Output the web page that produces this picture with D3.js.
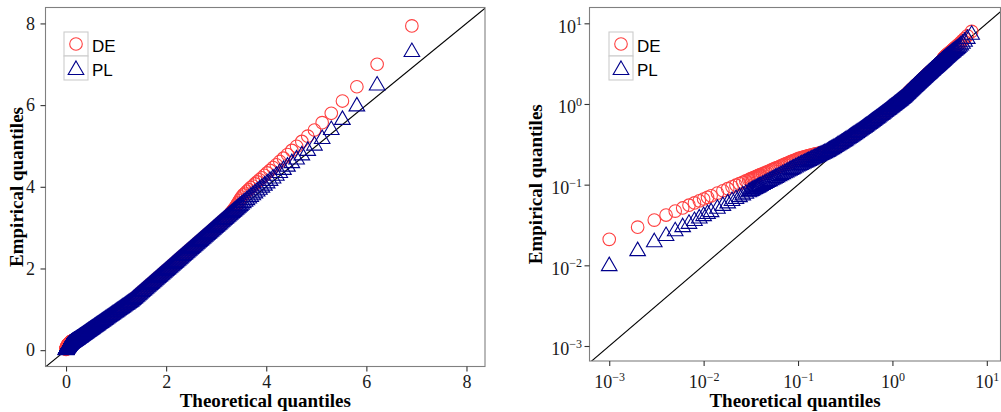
<!DOCTYPE html>
<html>
<head>
<meta charset="utf-8">
<script src="https://cdn.jsdelivr.net/npm/d3@7"></script>
<style>
  body { margin: 0; background: #fff; }
  svg { display: block; }
</style>
</head>
<body>
<svg width="1001" height="412"></svg>
<script>
// QQ plot data: theoretical quantiles and empirical quantiles of two samples
const seriesNames = ['DE', 'PL']
const seriesColors = ['#ff4040', '#00008b']

const theoretical = [
  0.001, 0.002, 0.003, 0.004, 0.005, 0.006, 0.007, 0.008, 0.009, 0.010, 0.011, 0.012,
  0.014, 0.016, 0.018, 0.020, 0.022, 0.024, 0.026, 0.028, 0.030,
  0.031, 0.032, 0.033, 0.034, 0.035, 0.036, 0.037, 0.038, 0.039, 0.040,
  0.042, 0.044, 0.046, 0.048, 0.050, 0.052, 0.054, 0.056, 0.058, 0.060,
  0.063, 0.066, 0.069, 0.072, 0.075, 0.078, 0.081, 0.084, 0.087, 0.090,
  0.094, 0.098, 0.102, 0.106, 0.110, 0.114, 0.118, 0.122, 0.126, 0.130,
  0.135, 0.140, 0.145, 0.150, 0.155, 0.160, 0.165, 0.170, 0.175, 0.180,
  0.186, 0.192, 0.198, 0.204, 0.210, 0.216, 0.222, 0.228, 0.234, 0.240,
  0.248, 0.256, 0.264, 0.272, 0.280, 0.288, 0.296, 0.304, 0.312, 0.320,
  0.330, 0.340, 0.350, 0.360, 0.370, 0.380, 0.390, 0.400, 0.410, 0.420,
  0.432, 0.444, 0.456, 0.468, 0.480, 0.492, 0.504, 0.516, 0.528, 0.540,
  0.555, 0.570, 0.585, 0.600, 0.615, 0.630, 0.645, 0.660, 0.675, 0.690,
  0.708, 0.726, 0.744, 0.762, 0.780, 0.798,
  0.82, 0.84, 0.86, 0.88, 0.90, 0.92, 0.94, 0.96, 0.98, 1.00,
  1.02, 1.04, 1.06, 1.08, 1.10, 1.12, 1.14, 1.16, 1.18, 1.20,
  1.22, 1.24, 1.26, 1.28, 1.30, 1.32, 1.34, 1.36, 1.38, 1.40,
  1.42, 1.44, 1.46, 1.48, 1.50, 1.52, 1.54, 1.56, 1.58, 1.60,
  1.62, 1.64, 1.66, 1.68, 1.70, 1.72, 1.74, 1.76, 1.78, 1.80,
  1.82, 1.84, 1.86, 1.88, 1.90, 1.92, 1.94, 1.96, 1.98, 2.00,
  2.02, 2.04, 2.06, 2.08, 2.10, 2.12, 2.14, 2.16, 2.18, 2.20,
  2.22, 2.24, 2.26, 2.28, 2.30, 2.32, 2.34, 2.36, 2.38, 2.40,
  2.42, 2.44, 2.46, 2.48, 2.50, 2.52, 2.54, 2.56, 2.58, 2.60,
  2.62, 2.64, 2.66, 2.68, 2.70, 2.72, 2.74, 2.76, 2.78, 2.80,
  2.82, 2.84, 2.86, 2.88, 2.90, 2.92, 2.94, 2.96, 2.98, 3.00,
  3.02, 3.04, 3.06, 3.08, 3.10, 3.12, 3.14, 3.16, 3.18, 3.20,
  3.22, 3.24, 3.26, 3.28, 3.30, 3.32, 3.34, 3.36, 3.38, 3.40,
  3.42, 3.44, 3.46, 3.48,
  3.507, 3.541, 3.576, 3.613, 3.651, 3.690, 3.731, 3.773, 3.818, 3.864,
  3.913, 3.964, 4.018, 4.076, 4.136, 4.201, 4.270, 4.344, 4.424, 4.511,
  4.606, 4.711, 4.829, 4.963, 5.117, 5.299, 5.522, 5.810, 6.215, 6.909
]

const empiricalDE = [
  0.0210, 0.0297, 0.0364, 0.0420, 0.0470, 0.0514, 0.0556, 0.0594, 0.0630, 0.0664, 0.0696, 0.0727,
  0.0786, 0.0840, 0.0891, 0.0939, 0.0985, 0.1029, 0.1071, 0.1111, 0.1150,
  0.1169, 0.1188, 0.1206, 0.1224, 0.1242, 0.1260, 0.1277, 0.1295, 0.1311, 0.1328,
  0.1361, 0.1393, 0.1424, 0.1455, 0.1485, 0.1514, 0.1543, 0.1571, 0.1599, 0.1627,
  0.1667, 0.1706, 0.1744, 0.1782, 0.1819, 0.1855, 0.1890, 0.1925, 0.1959, 0.1992,
  0.2036, 0.2079, 0.2114, 0.2141, 0.2168, 0.2193, 0.2218, 0.2242, 0.2265, 0.2288,
  0.2314, 0.2340, 0.2364, 0.2388, 0.2409, 0.2430, 0.2449, 0.2468, 0.2484, 0.2500,
  0.2517, 0.2532, 0.2546, 0.2534, 0.2586, 0.2638, 0.2689, 0.2741, 0.2792, 0.2844,
  0.2913, 0.2982, 0.3051, 0.3119, 0.3188, 0.3257, 0.3326, 0.3394, 0.3463, 0.3532,
  0.3618, 0.3704, 0.3790, 0.3876, 0.3962, 0.4048, 0.4134, 0.4220, 0.4306, 0.4392,
  0.4495, 0.4598, 0.4702, 0.4805, 0.4908, 0.5011, 0.5114, 0.5218, 0.5321, 0.5424,
  0.5553, 0.5682, 0.5811, 0.5940, 0.6069, 0.6198, 0.6327, 0.6456, 0.6585, 0.6714,
  0.6869, 0.7024, 0.7178, 0.7333, 0.7488, 0.7643,
  0.7832, 0.8004, 0.8176, 0.8348, 0.8520, 0.8692, 0.8864, 0.9036, 0.9208, 0.9380,
  0.9552, 0.9724, 0.9896, 1.0068, 1.0240, 1.0412, 1.0584, 1.0756, 1.0928, 1.1100,
  1.1272, 1.1444, 1.1616, 1.1788, 1.1955, 1.2165, 1.2380, 1.2595, 1.2810, 1.3025,
  1.3240, 1.3455, 1.3670, 1.3885, 1.4100, 1.4315, 1.4530, 1.4745, 1.4960, 1.5175,
  1.5390, 1.5605, 1.5820, 1.6035, 1.6250, 1.6465, 1.6680, 1.6895, 1.7110, 1.7325,
  1.7540, 1.7755, 1.7970, 1.8185, 1.8400, 1.8615, 1.8830, 1.9045, 1.9260, 1.9475,
  1.9690, 1.9905, 2.0120, 2.0335, 2.0550, 2.0765, 2.0980, 2.1195, 2.1410, 2.1625,
  2.1840, 2.2055, 2.2270, 2.2485, 2.2700, 2.2915, 2.3130, 2.3345, 2.3560, 2.3775,
  2.3990, 2.4205, 2.4420, 2.4635, 2.4850, 2.5065, 2.5280, 2.5495, 2.5710, 2.5925,
  2.6140, 2.6355, 2.6570, 2.6785, 2.7000, 2.7215, 2.7430, 2.7645, 2.7860, 2.8075,
  2.8290, 2.8505, 2.8720, 2.8935, 2.9150, 2.9365, 2.9580, 2.9795, 3.0010, 3.0225,
  3.0440, 3.0655, 3.0870, 3.1085, 3.1300, 3.1515, 3.1730, 3.1945, 3.2160, 3.2375,
  3.2598, 3.2838, 3.3094, 3.3367, 3.3656, 3.3961, 3.4283, 3.4621, 3.4976, 3.5347,
  3.5735, 3.6139, 3.6560, 3.6997,
  3.75, 3.80, 3.84, 3.89, 3.93, 3.98, 4.02, 4.07, 4.12, 4.17,
  4.22, 4.28, 4.34, 4.40, 4.47, 4.54, 4.62, 4.70, 4.79, 4.89,
  4.99, 5.11, 5.24, 5.39, 5.57, 5.80, 6.10, 6.45, 7.00, 7.94
]

const empiricalPL = [
  0.0099, 0.0152, 0.0196, 0.0234, 0.0268, 0.0301, 0.0331, 0.0359, 0.0386, 0.0413, 0.0438, 0.0462,
  0.0509, 0.0552, 0.0594, 0.0634, 0.0673, 0.0710, 0.0746, 0.0781, 0.0816,
  0.0832, 0.0849, 0.0865, 0.0881, 0.0897, 0.0913, 0.0929, 0.0944, 0.0960, 0.0975,
  0.1005, 0.1034, 0.1063, 0.1091, 0.1120, 0.1147, 0.1174, 0.1201, 0.1227, 0.1253,
  0.1292, 0.1330, 0.1367, 0.1403, 0.1439, 0.1475, 0.1510, 0.1544, 0.1578, 0.1612,
  0.1656, 0.1699, 0.1739, 0.1778, 0.1816, 0.1853, 0.1890, 0.1926, 0.1962, 0.1997,
  0.2040, 0.2083, 0.2125, 0.2166, 0.2207, 0.2247, 0.2287, 0.2326, 0.2365, 0.2403,
  0.2448, 0.2493, 0.2537, 0.2584, 0.2636, 0.2688, 0.2739, 0.2791, 0.2842, 0.2894,
  0.2963, 0.3032, 0.3101, 0.3169, 0.3238, 0.3307, 0.3376, 0.3444, 0.3513, 0.3582,
  0.3668, 0.3754, 0.3840, 0.3926, 0.4012, 0.4098, 0.4184, 0.4270, 0.4356, 0.4442,
  0.4545, 0.4648, 0.4752, 0.4855, 0.4958, 0.5061, 0.5164, 0.5268, 0.5371, 0.5474,
  0.5603, 0.5732, 0.5861, 0.5990, 0.6119, 0.6248, 0.6377, 0.6506, 0.6635, 0.6764,
  0.6919, 0.7074, 0.7228, 0.7383, 0.7538, 0.7693,
  0.7882, 0.8054, 0.8226, 0.8398, 0.8570, 0.8742, 0.8914, 0.9086, 0.9258, 0.9430,
  0.9602, 0.9774, 0.9946, 1.0118, 1.0290, 1.0462, 1.0634, 1.0806, 1.0978, 1.1150,
  1.1322, 1.1494, 1.1666, 1.1838, 1.2005, 1.2215, 1.2430, 1.2645, 1.2860, 1.3075,
  1.3290, 1.3505, 1.3720, 1.3935, 1.4150, 1.4365, 1.4580, 1.4795, 1.5010, 1.5225,
  1.5440, 1.5655, 1.5870, 1.6085, 1.6300, 1.6515, 1.6730, 1.6945, 1.7160, 1.7375,
  1.7590, 1.7805, 1.8020, 1.8235, 1.8450, 1.8665, 1.8880, 1.9095, 1.9310, 1.9525,
  1.9740, 1.9955, 2.0170, 2.0385, 2.0600, 2.0815, 2.1030, 2.1245, 2.1460, 2.1675,
  2.1890, 2.2105, 2.2320, 2.2535, 2.2750, 2.2965, 2.3180, 2.3395, 2.3610, 2.3825,
  2.4040, 2.4255, 2.4470, 2.4685, 2.4900, 2.5115, 2.5330, 2.5545, 2.5760, 2.5975,
  2.6190, 2.6405, 2.6620, 2.6835, 2.7050, 2.7265, 2.7480, 2.7695, 2.7910, 2.8125,
  2.8340, 2.8555, 2.8770, 2.8985, 2.9200, 2.9415, 2.9630, 2.9845, 3.0060, 3.0275,
  3.0490, 3.0705, 3.0920, 3.1135, 3.1350, 3.1565, 3.1780, 3.1995, 3.2210, 3.2425,
  3.2640, 3.2855, 3.3070, 3.3285, 3.3500, 3.3715, 3.3930, 3.4145, 3.4360, 3.4575,
  3.4790, 3.5005, 3.5220, 3.5435,
  3.570, 3.610, 3.645, 3.685, 3.725, 3.765, 3.805, 3.850, 3.895, 3.940,
  3.990, 4.040, 4.095, 4.155, 4.215, 4.280, 4.350, 4.425, 4.505, 4.590,
  4.680, 4.780, 4.890, 5.020, 5.180, 5.400, 5.650, 5.980, 6.490, 7.310
]

const linearTicks = [0, 2, 4, 6, 8]
const logTicks = [1e-3, 1e-2, 1e-1, 1e0, 1e1]

const svg = d3.select('svg')
const serif = '"Liberation Serif", "Times New Roman", serif'
const sans = '"Liberation Sans", Arial, sans-serif'

const points = theoretical.map((t, i) => ({ t, de: empiricalDE[i], pl: empiricalPL[i] }))
  .filter(d => d.de > 0 && d.pl > 0)

// hollow triangle like R's pch 2
const triangle = 'M0,-8.55L7.8,4.95L-7.8,4.95Z'

const panels = [
  { left: 45.5, right: 485, top: 7.5, bottom: 366.5,
    x: d3.scaleLinear().domain([-0.41, 8.37]),
    y: d3.scaleLinear().domain([-0.40, 8.39]),
    ticks: linearTicks, log: false, legendX: 64, titleX: 22.5, padY: 5.5 },
  { left: 589.5, right: 1000.5, top: 7.5, bottom: 361,
    x: d3.scaleLog().domain([Math.pow(10, -3.209), Math.pow(10, 1.145)]),
    y: d3.scaleLog().domain([Math.pow(10, -3.186), Math.pow(10, 1.196)]),
    ticks: logTicks, log: true, legendX: 609, titleX: 542, padY: 2.5 }
]

function powerLabel(sel) {
  sel.each(function (d) {
    const t = d3.select(this)
    t.text(null)
    t.append('tspan').text('10')
    t.append('tspan').attr('dy', -7.5).attr('font-size', 12)
      .text(String(Math.round(Math.log10(d))).replace('-', '\u2212'))
  })
}

panels.forEach((p, pi) => {
  p.x.range([p.left, p.right])
  p.y.range([p.bottom, p.top])
  const g = svg.append('g')

  g.append('clipPath').attr('id', 'clip' + pi)
    .append('rect')
    .attr('x', p.left).attr('y', p.top)
    .attr('width', p.right - p.left).attr('height', p.bottom - p.top)

  const plot = g.append('g').attr('clip-path', `url(#clip${pi})`)

  // reference line y = x
  const lo = Math.min(p.x.domain()[0], p.y.domain()[0])
  const hi = Math.max(p.x.domain()[1], p.y.domain()[1])
  plot.append('line')
    .attr('x1', p.x(lo)).attr('y1', p.y(lo))
    .attr('x2', p.x(hi)).attr('y2', p.y(hi))
    .attr('stroke', '#000').attr('stroke-width', 1.1)

  plot.append('g').selectAll('circle').data(points).enter().append('circle')
    .attr('cx', d => p.x(d.t))
    .attr('cy', d => p.y(d.de))
    .attr('r', 6.3)
    .attr('fill', 'none')
    .attr('stroke', seriesColors[0])
    .attr('stroke-width', 1.1)

  plot.append('g').selectAll('path').data(points).enter().append('path')
    .attr('d', triangle)
    .attr('transform', d => `translate(${p.x(d.t)},${p.y(d.pl)})`)
    .attr('fill', 'none')
    .attr('stroke', seriesColors[1])
    .attr('stroke-width', 1.1)

  // panel border
  g.append('rect')
    .attr('x', p.left).attr('y', p.top)
    .attr('width', p.right - p.left).attr('height', p.bottom - p.top)
    .attr('fill', 'none').attr('stroke', '#808080').attr('stroke-width', 1.1)

  // axes
  const xAxis = d3.axisBottom(p.x).tickValues(p.ticks).tickSize(5).tickPadding(4)
    .tickFormat(p.log ? () => '' : d3.format('d'))
  const gx = g.append('g').attr('transform', `translate(0,${p.bottom})`).call(xAxis)
  gx.attr('font-family', serif).attr('font-size', 18)
  gx.select('.domain').remove()
  gx.selectAll('line').attr('stroke', '#333').attr('stroke-width', 1.1)
  gx.selectAll('text').attr('fill', '#1a1a1a').attr('y', 388 - p.bottom).attr('dy', null)
  if (p.log) gx.selectAll('text').call(powerLabel)

  const yAxis = d3.axisLeft(p.y).tickValues(p.ticks).tickSize(5).tickPadding(p.padY)
    .tickFormat(p.log ? () => '' : d3.format('d'))
  const gy = g.append('g').attr('transform', `translate(${p.left},0)`).call(yAxis)
  gy.attr('font-family', serif).attr('font-size', 18)
  gy.select('.domain').remove()
  gy.selectAll('line').attr('stroke', '#333').attr('stroke-width', 1.1)
  gy.selectAll('text').attr('fill', '#1a1a1a')
  if (p.log) gy.selectAll('text').attr('dy', 9).call(powerLabel)

  // axis titles
  g.append('text')
    .attr('x', (p.left + p.right) / 2).attr('y', 407)
    .attr('text-anchor', 'middle')
    .attr('font-family', serif).attr('font-weight', 'bold').attr('font-size', 19)
    .text('Theoretical quantiles')

  g.append('text')
    .attr('transform', `translate(${p.titleX},${(p.top + p.bottom) / 2}) rotate(-90)`)
    .attr('text-anchor', 'middle')
    .attr('font-family', serif).attr('font-weight', 'bold').attr('font-size', 19)
    .text('Empirical quantiles')

  // legend
  const lg = g.append('g').attr('transform', `translate(${p.legendX},32)`)
  seriesNames.forEach((name, i) => {
    const row = lg.append('g').attr('transform', `translate(0,${i * 24})`)
    row.append('rect').attr('width', 24).attr('height', 24)
      .attr('fill', '#fff').attr('stroke', '#cccccc').attr('stroke-width', 1.1)
    if (i === 0) {
      row.append('circle').attr('cx', 12).attr('cy', 12).attr('r', 6.3)
        .attr('fill', 'none').attr('stroke', seriesColors[i]).attr('stroke-width', 1.1)
    } else {
      row.append('path').attr('d', triangle).attr('transform', 'translate(12,13.5)')
        .attr('fill', 'none').attr('stroke', seriesColors[i]).attr('stroke-width', 1.1)
    }
    row.append('text').attr('x', 28).attr('y', 19.5)
      .attr('font-family', sans).attr('font-size', 17).attr('fill', '#000')
      .text(name)
  })
})
</script>
</body>
</html>
